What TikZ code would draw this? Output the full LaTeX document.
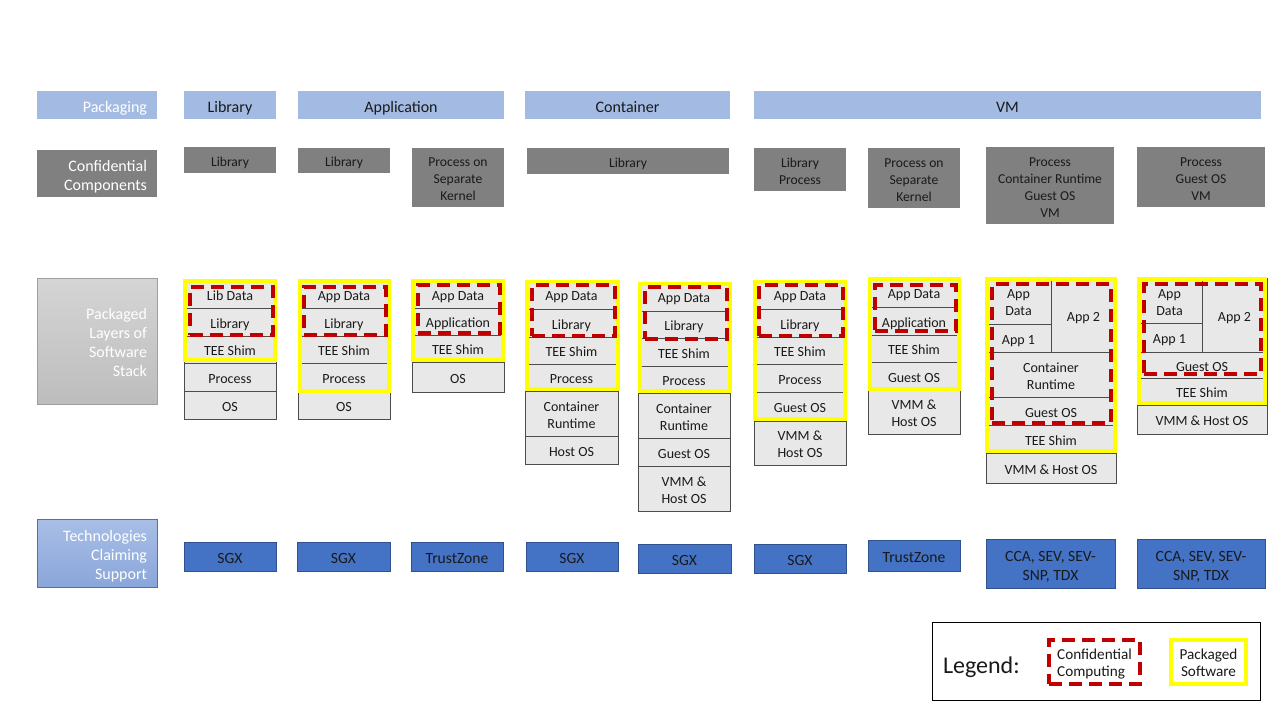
\documentclass[tikz,border=0pt]{standalone}
\usepackage{fontspec}
\setmainfont{Carlito}
\definecolor{pkgblue}{HTML}{A3BBE2}
\definecolor{compgray}{HTML}{808080}
\definecolor{techblue}{HTML}{4472C4}
\definecolor{techborder}{HTML}{2F528F}
\definecolor{layfill}{HTML}{E8E8E8}
\definecolor{ccred}{HTML}{C00000}
\definecolor{pkyellow}{HTML}{FFFF00}
\definecolor{txt}{HTML}{1A1A1A}
\definecolor{techlabtop}{HTML}{A8BEE6}
\definecolor{techlabbot}{HTML}{8AA6DA}
\newcommand\topstrut{\rule{0pt}{0.99\baselineskip}}
\newcommand\botstrut{\rule[-0.25\baselineskip]{0pt}{0.25\baselineskip}}
\tikzset{
 base/.style={inner sep=0pt, outer sep=0pt, align=flush center, text=txt},
 st/.style={execute at begin node=\topstrut, execute at end node=\botstrut},
 pkg/.style={base, st, fill=pkgblue, font=\fontsize{12pt}{14.25pt}\selectfont},
 comp/.style={base, st, fill=compgray, font=\fontsize{10.2pt}{12.75pt}\selectfont},
 layer/.style={base, st, fill=layfill, draw=black!70, line width=0.7pt, font=\fontsize{10.5pt}{12.75pt}\selectfont},
 tech/.style={base, st, fill=techblue, draw=techborder, line width=0.75pt, font=\fontsize{11.7pt}{14.25pt}\selectfont},
 rowlabel/.style={base, st, text=white, align=flush right, text width=75pt, font=\fontsize{12pt}{14.25pt}\selectfont},
 ccbox/.style={base, draw=ccred, line width=3pt, dash pattern=on 10pt off 5pt},
 pkbox/.style={base, draw=pkyellow, line width=3pt},
 legtext/.style={base, st, font=\fontsize{11.4pt}{12.75pt}\selectfont},
}
% style, name, x1, y1, x2, y2, text
\newcommand\boxat[7]{\node[text width={(#5-#3)*0.75pt-4pt}, #1, minimum width={(#5-#3)*0.75pt}, minimum height={(#6-#4)*0.75pt}] (#2) at ({(#3+#5)/2},{(#4+#6)/2}) {#7};}
\begin{document}
\begin{tikzpicture}[x=0.75pt, y=-0.75pt]
\fill[white] (0,0) rectangle (1280,720);
\useasboundingbox (0,0) rectangle (1280,720);

% Row 1: packaging
\boxat{pkg, rowlabel}{labpkg}{37}{91}{157}{119}{Packaging}
\boxat{pkg}{pLib}{184}{91}{276}{119}{Library}
\boxat{pkg}{pApp}{298}{91}{504}{119}{Application}
\boxat{pkg}{pCon}{525}{91}{730}{119}{Container}
\boxat{pkg}{pVM}{754}{91}{1261}{119}{VM}

% Row 2: confidential components
\boxat{comp, rowlabel}{labcomp}{37}{150}{157}{197}{Confidential\\Components}
\boxat{comp}{c1}{184}{147}{276}{173}{Library}
\boxat{comp}{c2}{298}{148}{390}{173}{Library}
\boxat{comp}{c3}{412}{148}{504}{207}{Process on\\Separate\\Kernel}
\boxat{comp}{c4}{527}{148}{729}{174}{Library}
\boxat{comp}{c5}{754}{148}{846}{191}{Library\\Process}
\boxat{comp}{c6}{868}{148}{960}{208}{Process on\\Separate\\Kernel}
\boxat{comp}{c7}{986}{147}{1114}{224}{Process\\Container Runtime\\Guest OS\\VM}
\boxat{comp}{c8}{1137}{147}{1265}{207}{Process\\Guest OS\\VM}

% Row 3: label
\boxat{rowlabel, top color=gray!33, bottom color=gray!52, draw=gray!75, line width=0.5pt}{labstack}{37}{278}{157}{404}{Packaged\\Layers of\\Software\\Stack}

% Stack 1
\boxat{layer}{s1a}{184}{280}{276}{308}{Lib Data}
\boxat{layer}{s1b}{184}{308}{276}{336}{Library}
\boxat{layer}{s1c}{184}{336}{276}{363}{TEE Shim}
\boxat{layer}{s1d}{184}{363}{276}{391}{Process}
\boxat{layer}{s1e}{184}{391}{276}{419}{OS}
\boxat{pkbox}{s1y}{185}{281}{275}{360}{}
\boxat{ccbox}{s1r}{190}{287}{273}{335}{}

% Stack 2
\boxat{layer}{s2a}{298}{280}{390}{308}{App Data}
\boxat{layer}{s2b}{298}{308}{390}{336}{Library}
\boxat{layer}{s2c}{298}{336}{390}{363}{TEE Shim}
\boxat{layer}{s2d}{298}{363}{390}{391}{Process}
\boxat{layer}{s2e}{298}{391}{390}{419}{OS}
\boxat{pkbox}{s2y}{300}{281}{389}{391}{}
\boxat{ccbox}{s2r}{304}{287}{386}{335}{}

% Stack 3
\boxat{layer}{s3a}{412}{280}{504}{308}{App Data}
\boxat{layer}{s3b}{412}{308}{504}{335}{Application}
\boxat{layer}{s3c}{412}{335}{504}{362}{TEE Shim}
\boxat{layer}{s3d}{412}{362}{504}{392}{OS}
\boxat{pkbox}{s3y}{413}{281}{503}{360}{}
\boxat{ccbox}{s3r}{418}{285}{500}{333}{}

% Stack 4
\boxat{layer}{s4a}{525}{280}{618}{309}{App Data}
\boxat{layer}{s4b}{525}{309}{618}{337}{Library}
\boxat{layer}{s4c}{525}{337}{618}{364}{TEE Shim}
\boxat{layer}{s4d}{525}{364}{618}{391}{Process}
\boxat{layer}{s4e}{525}{391}{618}{436}{Container\\Runtime}
\boxat{layer}{s4f}{525}{436}{618}{464}{Host OS}
\boxat{pkbox}{s4y}{527}{282}{618}{389}{}
\boxat{ccbox}{s4r}{532}{285}{615}{336}{}

% Stack 5
\boxat{layer}{s5a}{638}{282}{730}{311}{App Data}
\boxat{layer}{s5b}{638}{311}{730}{338}{Library}
\boxat{layer}{s5c}{638}{338}{730}{366}{TEE Shim}
\boxat{layer}{s5d}{638}{366}{730}{393}{Process}
\boxat{layer}{s5e}{638}{393}{730}{438}{Container\\Runtime}
\boxat{layer}{s5f}{638}{438}{730}{466}{Guest OS}
\boxat{layer}{s5g}{638}{466}{730}{511}{VMM \&\\Host OS}
\boxat{pkbox}{s5y}{640}{284}{730}{391}{}
\boxat{ccbox}{s5r}{645}{287}{727}{339}{}

% Stack 6
\boxat{layer}{s6a}{754}{280}{846}{309}{App Data}
\boxat{layer}{s6b}{754}{309}{846}{337}{Library}
\boxat{layer}{s6c}{754}{337}{846}{364}{TEE Shim}
\boxat{layer}{s6d}{754}{364}{846}{392}{Process}
\boxat{layer}{s6e}{754}{392}{846}{421}{Guest OS}
\boxat{layer}{s6f}{754}{421}{846}{465}{VMM \&\\Host OS}
\boxat{pkbox}{s6y}{755}{282}{845}{419}{}
\boxat{ccbox}{s6r}{759}{285}{843}{336}{}

% Stack 7
\boxat{layer}{s7a}{868}{278}{960}{307}{App Data}
\boxat{layer}{s7b}{868}{307}{960}{335}{Application}
\boxat{layer}{s7c}{868}{335}{960}{362}{TEE Shim}
\boxat{layer}{s7d}{868}{362}{960}{390}{Guest OS}
\boxat{layer}{s7e}{868}{390}{960}{434}{VMM \&\\Host OS}
\boxat{pkbox}{s7y}{870}{279}{959}{389}{}
\boxat{ccbox}{s7r}{875}{285}{956}{331}{}

% Stack 8
\boxat{layer}{s8a}{986}{278}{1051}{324}{App\\Data}
\boxat{layer}{s8b}{986}{324}{1051}{352}{App 1}
\boxat{layer}{s8c}{1051}{278}{1116}{352}{App 2}
\boxat{layer}{s8d}{986}{352}{1116}{397}{Container\\Runtime}
\boxat{layer}{s8e}{986}{397}{1116}{425}{Guest OS}
\boxat{layer}{s8f}{986}{425}{1116}{453}{TEE Shim}
\boxat{layer}{s8g}{986}{453}{1116}{483}{VMM \& Host OS}
\boxat{pkbox}{s8y}{987}{279}{1115}{451}{}
\boxat{ccbox}{s8r}{992}{284}{1111}{423}{}

% Stack 9
\boxat{layer}{s9a}{1137}{278}{1202}{323}{App\\Data}
\boxat{layer}{s9b}{1137}{323}{1202}{352}{App 1}
\boxat{layer}{s9c}{1202}{278}{1267}{352}{App 2}
\boxat{layer}{s9d}{1137}{352}{1267}{378}{Guest OS}
\boxat{layer}{s9e}{1137}{378}{1267}{405}{TEE Shim}
\boxat{layer}{s9f}{1137}{405}{1267}{434}{VMM \& Host OS}
\boxat{pkbox}{s9y}{1139}{279}{1265}{403}{}
\boxat{ccbox}{s9r}{1144}{284}{1261}{374}{}

% Row 4: technologies
\boxat{rowlabel, top color=techlabtop, bottom color=techlabbot, draw=techblue, line width=0.5pt}{labtech}{37}{519}{157}{587}{Technologies\\Claiming\\Support}
\boxat{tech}{t1}{184}{542}{276}{571}{SGX}
\boxat{tech}{t2}{297}{542}{390}{571}{SGX}
\boxat{tech}{t3}{411}{542}{503}{571}{TrustZone}
\boxat{tech}{t4}{526}{542}{618}{571}{SGX}
\boxat{tech}{t5}{638}{544}{731}{573}{SGX}
\boxat{tech}{t6}{754}{544}{846}{573}{SGX}
\boxat{tech}{t7}{868}{540}{960}{571}{TrustZone}
\boxat{tech}{t8}{986}{539}{1115}{588}{CCA, SEV, SEV-\\SNP, TDX}
\boxat{tech}{t9}{1137}{539}{1265}{588}{CCA, SEV, SEV-\\SNP, TDX}

% Legend
\boxat{base, draw=black, line width=0.75pt}{legend}{932}{622}{1260}{700}{}
\node[base, font=\fontsize{18pt}{20pt}\selectfont, anchor=west] (legtitle) at (943,667) {Legend:};
\boxat{ccbox}{legcc}{1049}{640}{1140}{684}{}
\node[legtext, align=flush left, text width=56pt] (legcctext) at (legcc.center) {Confidential\\Computing};
\boxat{pkbox}{legpk}{1171}{640}{1246}{684}{}
\node[legtext, text width=50pt] (legpktext) at (legpk.center) {Packaged\\Software};
\end{tikzpicture}
\end{document}
